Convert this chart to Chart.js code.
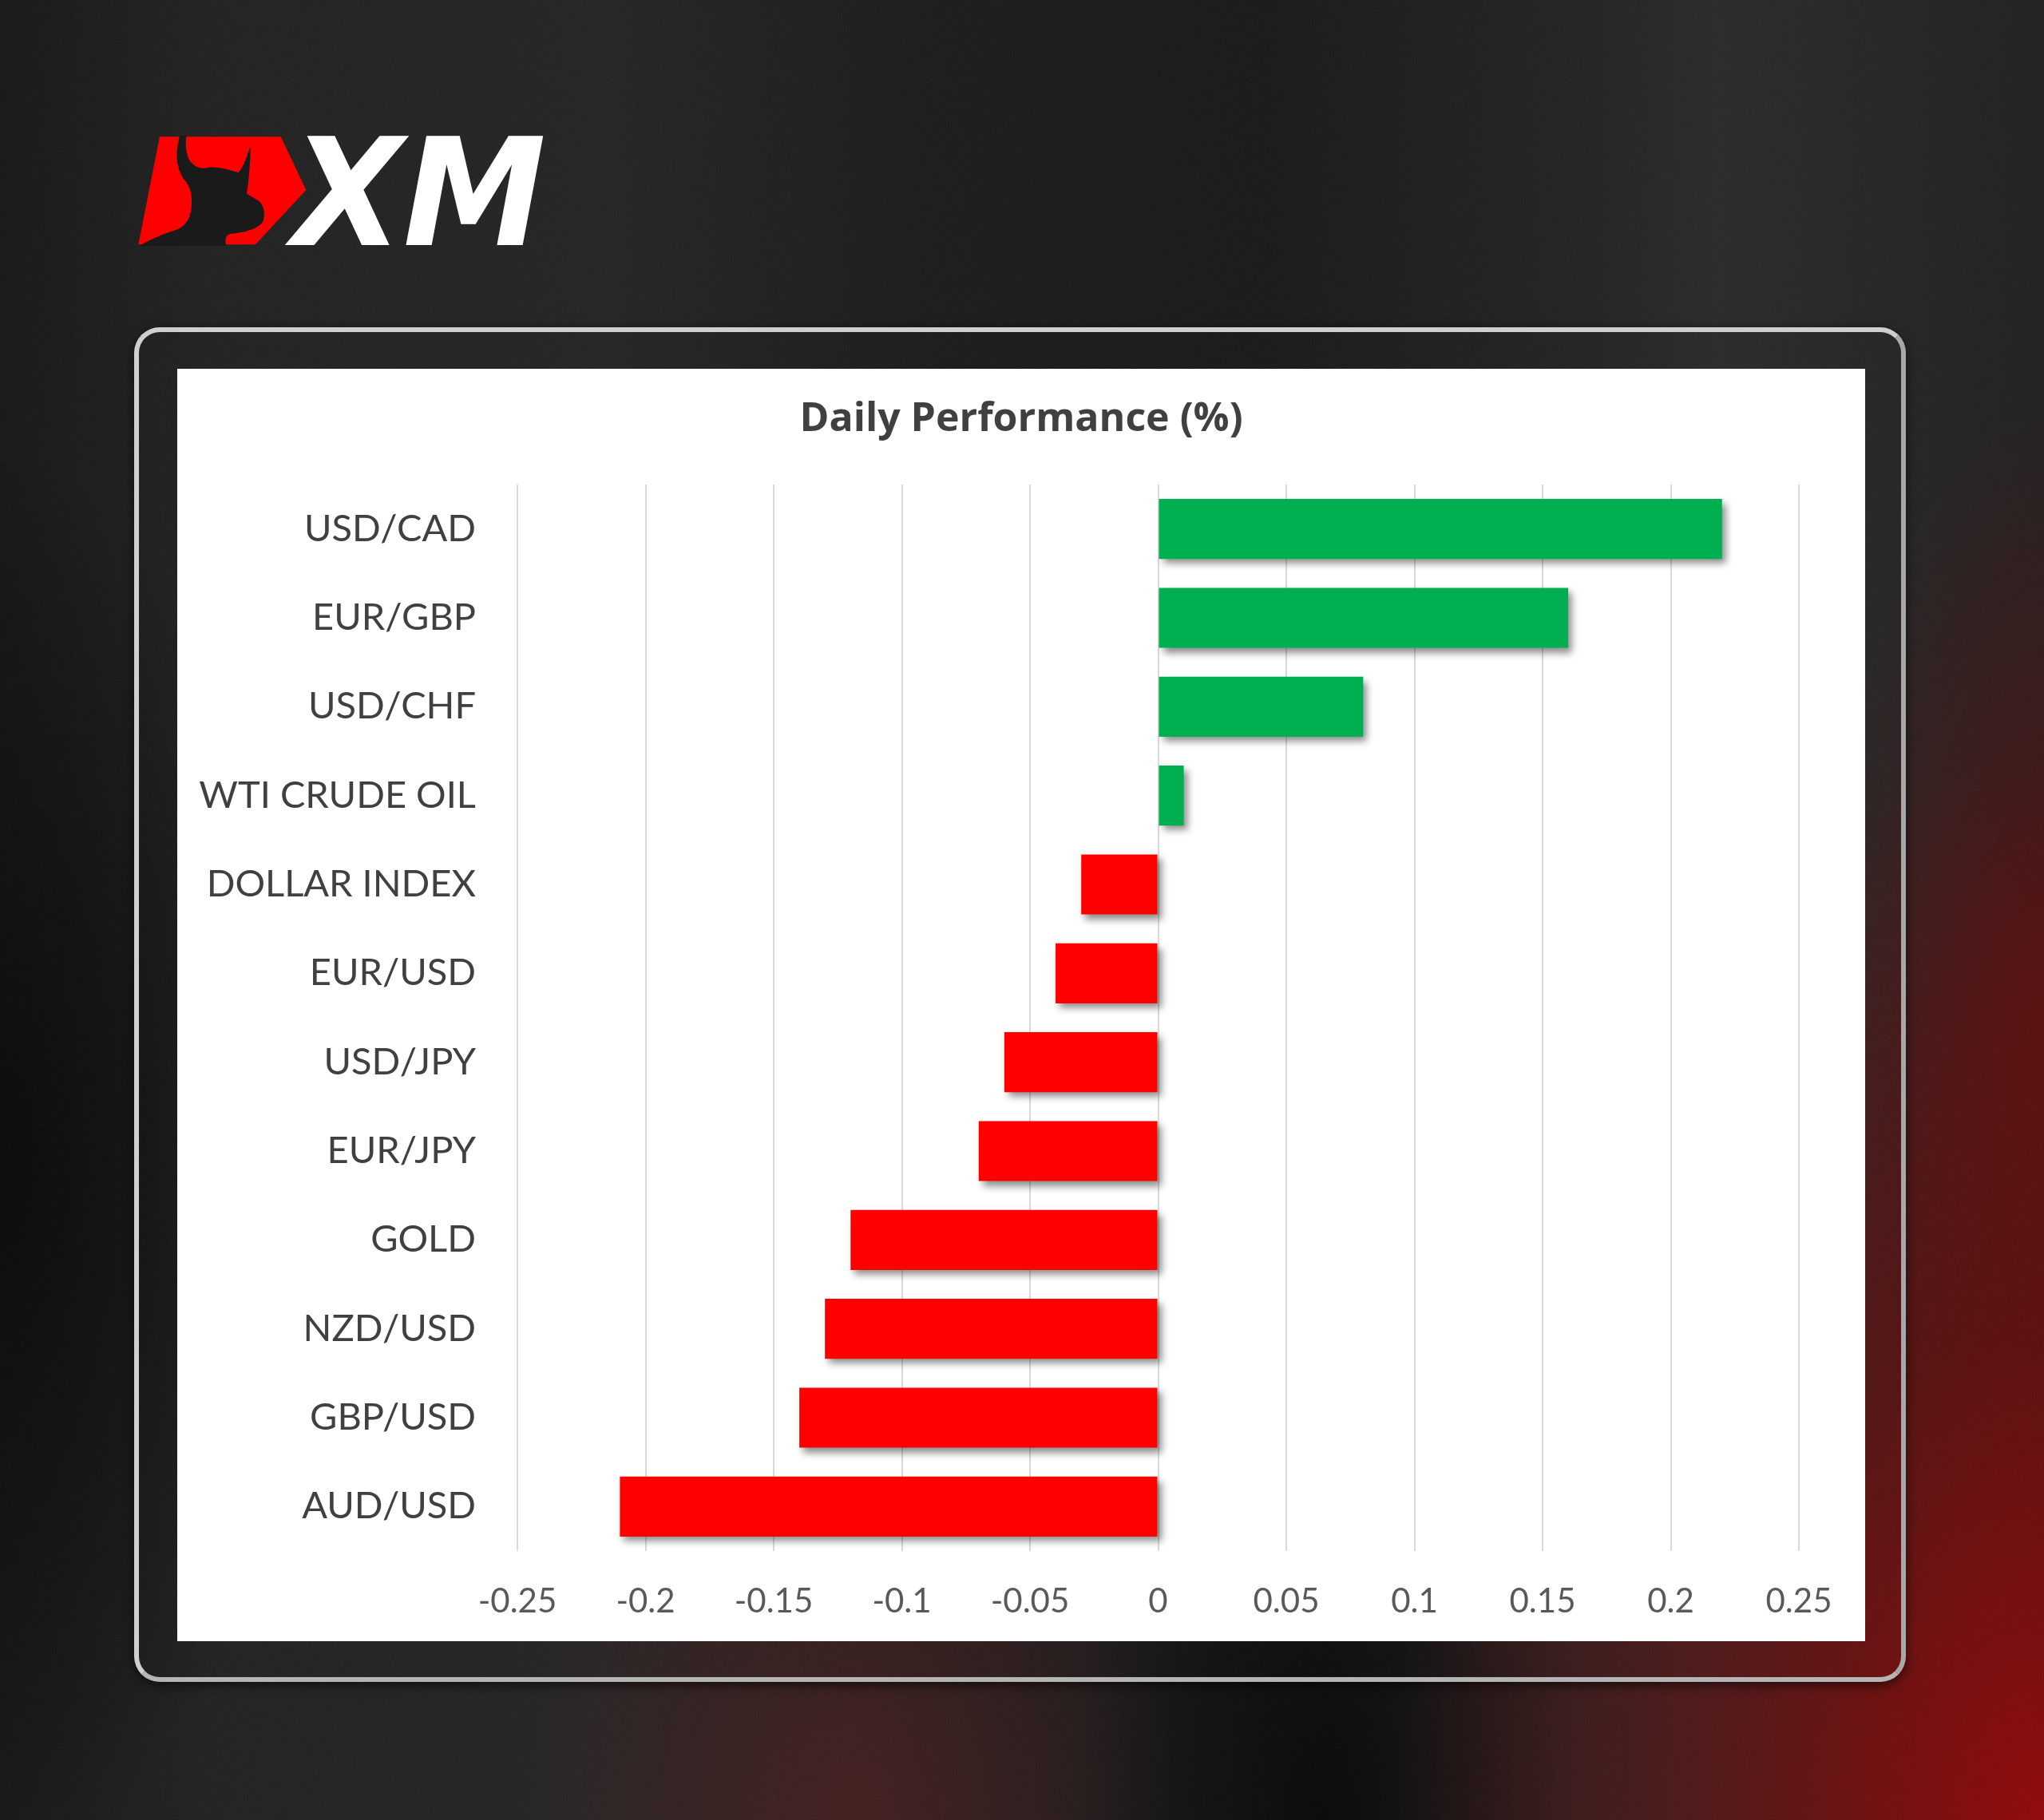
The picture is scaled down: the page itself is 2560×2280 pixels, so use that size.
<!DOCTYPE html>
<html>
<head>
<meta charset="utf-8">
<script src="https://cdn.jsdelivr.net/npm/chart.js@4.4.1/dist/chart.umd.min.js"></script>
<style>
  html, body { margin: 0; padding: 0; background: #1b1b1b; }
  .page {
    position: relative; width: 2560px; height: 2280px; overflow: hidden;
    background:
      url("data:image/svg+xml;utf8,<svg xmlns='http://www.w3.org/2000/svg' width='400' height='400'><filter id='n'><feTurbulence type='fractalNoise' baseFrequency='0.85' numOctaves='2' stitchTiles='stitch'/><feColorMatrix values='0 0 0 0 0.6 0 0 0 0 0.6 0 0 0 0 0.6 0 0 0 0.10 0'/></filter><rect width='100%' height='100%' filter='url(%23n)'/></svg>"),
      radial-gradient(ellipse 820px 1350px at 2560px 2300px, rgba(150,0,0,0.95), rgba(115,0,0,0.55) 48%, rgba(0,0,0,0) 100%),
      radial-gradient(ellipse 280px 800px at 2560px 1300px, rgba(110,0,0,0.6), rgba(0,0,0,0) 100%),
      radial-gradient(ellipse 320px 800px at 1660px 2280px, rgba(0,0,0,0.9), rgba(0,0,0,0) 100%),
      radial-gradient(ellipse 420px 600px at 1070px 2280px, rgba(80,26,26,0.7), rgba(0,0,0,0) 100%),
      radial-gradient(ellipse 380px 900px at 0px 1450px, rgba(0,0,0,0.85), rgba(0,0,0,0) 100%),
      linear-gradient(90deg, #121212 0%, #1c1c1c 10%, #1f1f1f 30%, #161616 45%, #141414 62%, #1e1e1e 78%, #252525 84%, #1b1b1b 100%);
  }
  .logo { position: absolute; left: 165px; top: 163px; }
  .frame {
    position: absolute; left: 168px; top: 410px; width: 2207px; height: 1685px;
    border: 6px solid #cfcfcf; border-bottom-color: #b5b5b5; border-right-color: #a8a8a8;
    border-radius: 32px; box-shadow: 0 4px 14px rgba(0,0,0,0.6);
  }
  .panel { position: absolute; left: 222px; top: 462px; width: 2114px; height: 1594px; background: #fff; }
</style>
</head>
<body>
<div class="page">
  <svg class="logo" width="530" height="150" viewBox="0 0 1590 450">
    <polygon points="105,25 560,25 655,225 465,430 25,430" fill="#ff0000"/>
    <path fill="#1a1a1a" d="M180,20 C165,80 162,140 200,190 C222,215 228,250 224,290 C220,335 200,362 165,376 C120,390 70,410 30,435 L355,435 C350,410 352,395 370,390 C420,385 470,375 492,345 C505,310 495,275 470,262 C455,252 440,245 432,238 C440,190 446,120 446,58 C432,100 420,140 400,160 C370,150 330,138 290,140 C265,148 240,142 220,118 C205,95 200,60 205,20 Z"/>
    <text x="603" y="432" font-family="DejaVu Sans" font-weight="bold" font-style="italic" font-size="560" fill="#ffffff" textLength="954" lengthAdjust="spacingAndGlyphs">XM</text>
  </svg>
  <div class="frame"></div>
  <div class="panel"><canvas id="perfChart"></canvas></div>
</div>

<script>
// chart data
const categories = ["USD/CAD", "EUR/GBP", "USD/CHF", "WTI CRUDE OIL", "DOLLAR INDEX", "EUR/USD",
  "USD/JPY", "EUR/JPY", "GOLD", "NZD/USD", "GBP/USD", "AUD/USD"];
const dailyChange = [0.22, 0.16, 0.08, 0.01, -0.03, -0.04, -0.06, -0.07, -0.12, -0.13, -0.14, -0.21];
const xTicks = [-0.25, -0.2, -0.15, -0.1, -0.05, 0, 0.05, 0.1, 0.15, 0.2, 0.25];
const chartTitle = "Daily Performance (%)";

const FONT = "Lato, 'Open Sans', sans-serif";

// excel style drop shadow under the bars
const barShadow = {
  id: "barShadow",
  beforeDatasetsDraw(chart) {
    const c = chart.ctx;
    c.save();
    c.shadowColor = "rgba(0,0,0,0.45)";
    c.shadowBlur = 9;
    c.shadowOffsetX = 5;
    c.shadowOffsetY = 6;
  },
  afterDatasetsDraw(chart) {
    chart.ctx.restore();
  },
};

const ctx = document.getElementById("perfChart").getContext("2d");
const chart = new Chart(ctx, {
  type: "bar",
  data: {
    labels: categories,
    datasets: [
      {
        data: dailyChange,
        backgroundColor: dailyChange.map((v) => (v >= 0 ? "#00b050" : "#ff0000")),
        borderWidth: 0,
        categoryPercentage: 1,
        barPercentage: 0.675,
      },
    ],
  },
  options: {
    indexAxis: "y",
    responsive: true,
    maintainAspectRatio: false,
    animation: false,
    layout: { padding: 0 },
    plugins: {
      legend: { display: false },
      tooltip: { enabled: false },
      title: {
        display: true,
        text: chartTitle,
        color: "#404040",
        font: { family: "'Open Sans', Lato, sans-serif", size: 50, weight: "bold" },
        padding: { top: 34, bottom: 51 },
      },
    },
    scales: {
      x: {
        min: -0.25,
        max: 0.25,
        afterBuildTicks: (axis) => {
          axis.ticks = xTicks.map((v) => ({ value: v }));
        },
        afterFit: (axis) => {
          axis.height = 113;
        },
        grid: { color: "#d9d9d9", lineWidth: 2, drawTicks: false },
        border: { display: false },
        ticks: {
          autoSkip: false,
          maxRotation: 0,
          padding: 38,
          color: "#595959",
          font: { family: FONT, size: 42 },
          callback: (v) => String(v),
        },
      },
      y: {
        afterFit: (axis) => {
          axis.width = 426;
        },
        grid: { display: false, drawTicks: false },
        border: { display: false },
        ticks: {
          padding: 52,
          color: "#404040",
          font: { family: FONT, size: 47 },
        },
      },
      // empty right axis, only keeps the blank margin right of the plot
      yRight: {
        position: "right",
        afterFit: (axis) => {
          axis.width = 83;
        },
        grid: { display: false, drawTicks: false },
        border: { display: false },
        ticks: { display: false },
      },
    },
  },
  plugins: [barShadow],
});
</script>
</body>
</html>
